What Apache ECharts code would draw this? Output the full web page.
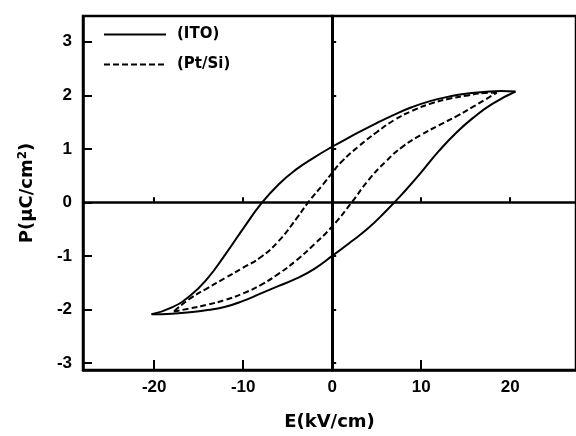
<!DOCTYPE html>
<html>
<head>
<meta charset="utf-8">
<script src="https://cdn.jsdelivr.net/npm/echarts@6/dist/echarts.min.js"></script>
<style>
  html, body { margin: 0; padding: 0; background: #fff; }
  #chart { width: 576px; height: 436px; }
</style>
</head>
<body>
<div id="chart"></div>
<script>
// 电滞回线数据 (E: kV/cm, P: μC/cm2)
// 每条回线拆成上支(正端点 -> 负端点)和下支(负端点 -> 正端点)，保证端点是尖角
const itoUpE  = [20.6, 19, 17, 15, 13, 11, 9, 7, 5, 3, 1, 0, -2, -4, -6, -8, -10, -12, -14, -16, -18, -20.3];
const itoUpP  = [2.07, 2.08, 2.06, 2.03, 1.97, 1.89, 1.78, 1.64, 1.48, 1.31, 1.13, 1.04, 0.84, 0.62, 0.34, -0.03, -0.49, -0.97, -1.42, -1.75, -1.96, -2.09];
const itoLowE = [-20.3, -18, -16, -14, -12, -10, -8, -6, -4, -2, 0, 2, 4, 6, 8, 10, 12, 14, 16, 18, 20.6];
const itoLowP = [-2.09, -2.08, -2.05, -2.01, -1.95, -1.84, -1.70, -1.56, -1.42, -1.24, -1.0, -0.75, -0.49, -0.17, 0.18, 0.56, 0.96, 1.31, 1.60, 1.84, 2.07];

const ptUpE  = [18.5, 17, 15, 13, 11, 9, 7, 5, 3, 1, 0, -1, -2.7, -4, -6, -8, -10, -12, -14, -16, -17.8];
const ptUpP  = [2.05, 2.04, 1.99, 1.93, 1.84, 1.71, 1.54, 1.31, 1.05, 0.75, 0.55, 0.34, 0, -0.3, -0.72, -1.02, -1.22, -1.41, -1.6, -1.8, -2.04];
const ptLowE = [-17.8, -16, -14, -12, -10, -8, -6, -4, -2, 0, 2.2, 4, 6, 8, 10, 12, 14, 16, 18.5];
const ptLowP = [-2.04, -1.98, -1.91, -1.82, -1.70, -1.54, -1.33, -1.08, -0.78, -0.45, 0, 0.4, 0.76, 1.05, 1.26, 1.44, 1.61, 1.8, 2.05];

const seriesNames = ['(ITO)', '(Pt/Si)'];
const xTicks = [-20, -10, 0, 10, 20];
const xBottomTicks = [-20, -10, 10];
const xZeroTicks = [-20, -10, 10, 20];
const yTicks = [-3, -2, -1, 0, 1, 2, 3];
const yZeroTicks = [-3, -2, -1, 1, 2, 3];

const xMin = -28, xMax = 27.4;
const yMin = -3.13, yMax = 3.48;

function zip(a, b) {
    return a.map((v, i) => [v, b[i]]);
}

const tickFont = '"Liberation Sans", Arial, sans-serif';
const nameFont = '"DejaVu Sans", sans-serif';
const black = '#000';

// 同名的两支共用一个图例项
function branch(name, es, ps, dash) {
    return {
        name: name,
        type: 'line',
        xAxisIndex: 0, yAxisIndex: 0,
        data: zip(es, ps),
        symbol: 'none',
        smooth: 0.5,
        itemStyle: { color: black },
        lineStyle: { color: black, width: 2, type: dash }
    };
}

const chart = echarts.init(document.getElementById('chart'), null, { renderer: 'canvas' });

const option = {
    animation: false,
    backgroundColor: '#fff',
    color: [black, black],
    grid: {
        left: 83, top: 16, right: -4, bottom: 63,
        show: true,
        borderColor: black,
        borderWidth: 2.5,
        backgroundColor: 'transparent'
    },
    legend: {
        orient: 'vertical',
        left: 103,
        top: 27,
        padding: 0,
        itemWidth: 62,
        itemHeight: 14,
        itemGap: 15,
        data: seriesNames,
        itemStyle: { opacity: 0 },
        textStyle: { color: black, fontSize: 15, fontWeight: 'bold', fontFamily: nameFont, padding: [0, 0, 0, 6] }
    },
    xAxis: [
        {   // 底部坐标轴：刻度标签和名称
            type: 'value', min: xMin, max: xMax,
            position: 'bottom',
            name: 'E(kV/cm)',
            nameLocation: 'middle',
            nameGap: 43,
            nameTextStyle: { color: black, fontSize: 18, fontWeight: 'bold', fontFamily: nameFont },
            axisLine: { onZero: false, lineStyle: { color: black, width: 2.5 } },
            axisTick: { inside: true, length: 10, lineStyle: { color: black, width: 2 }, customValues: xBottomTicks },
            axisLabel: { color: black, fontSize: 17, fontWeight: 'bold', fontFamily: tickFont, margin: 9, customValues: xTicks },
            splitLine: { show: false }
        },
        {   // P=0 处的水平线
            type: 'value', min: xMin, max: xMax,
            position: 'bottom',
            axisLine: { onZero: true, onZeroAxisIndex: 0, lineStyle: { color: black, width: 2.5 } },
            axisTick: { inside: true, length: 5, lineStyle: { color: black, width: 2 }, customValues: xZeroTicks },
            axisLabel: { show: false },
            splitLine: { show: false }
        }
    ],
    yAxis: [
        {   // 左侧坐标轴
            type: 'value', min: yMin, max: yMax,
            position: 'left',
            name: 'P(μC/cm{sup|2})',
            nameLocation: 'middle',
            nameGap: 45,
            nameRotate: 90,
            nameTextStyle: {
                color: black, fontSize: 18, fontWeight: 'bold', fontFamily: nameFont,
                rich: { sup: { fontSize: 12, fontWeight: 'bold', fontFamily: nameFont, verticalAlign: 'top', padding: [0, 0, 9, 0] } }
            },
            axisLine: { onZero: false, lineStyle: { color: black, width: 2.5 } },
            axisTick: { inside: true, length: 9, lineStyle: { color: black, width: 2 }, customValues: yTicks },
            axisLabel: { color: black, fontSize: 17, fontWeight: 'bold', fontFamily: tickFont, margin: 11, customValues: yTicks },
            splitLine: { show: false }
        },
        {   // E=0 处的竖线
            type: 'value', min: yMin, max: yMax,
            position: 'left',
            axisLine: { onZero: true, onZeroAxisIndex: 0, lineStyle: { color: black, width: 3 } },
            axisTick: { inside: true, length: 4, lineStyle: { color: black, width: 2 }, customValues: yZeroTicks },
            axisLabel: { show: false },
            splitLine: { show: false }
        }
    ],
    series: [
        branch(seriesNames[0], itoUpE, itoUpP, 'solid'),
        branch(seriesNames[0], itoLowE, itoLowP, 'solid'),
        branch(seriesNames[1], ptUpE, ptUpP, [6, 3]),
        branch(seriesNames[1], ptLowE, ptLowP, [6, 3])
    ]
};

chart.setOption(option);
</script>
</body>
</html>
